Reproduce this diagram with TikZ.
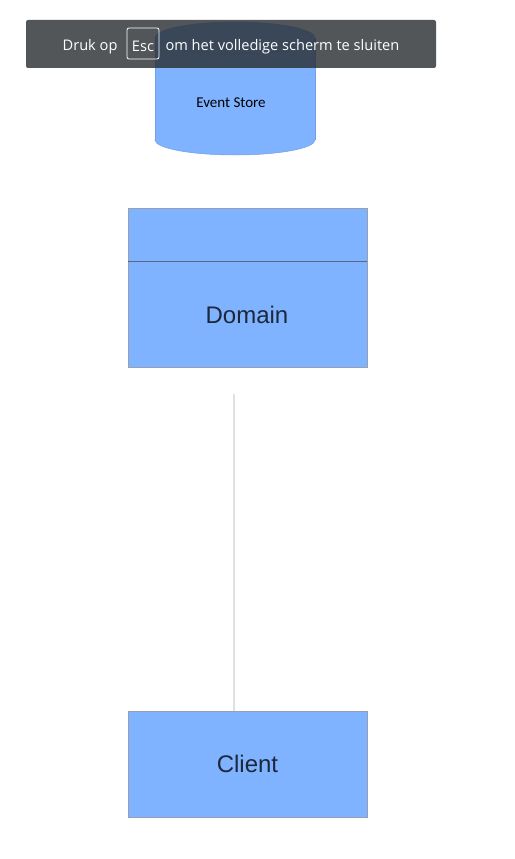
\documentclass[tikz,border=0pt]{standalone}
\usepackage{fontspec}
\usepackage{xcolor}
\setmainfont{Liberation Sans}
\newfontfamily\barfont{Open Sans}
\newfontfamily\storefont{Carlito}
\usetikzlibrary{positioning}

\definecolor{boxblue}{RGB}{128,179,255}
\definecolor{boxedge}{RGB}{150,160,175}
\definecolor{headline}{RGB}{90,105,130}
\definecolor{boxtext}{RGB}{28,40,60}
\definecolor{storeedge}{RGB}{112,160,230}
\definecolor{bargray}{RGB}{40,44,48}
\definecolor{linkgray}{RGB}{224,224,224}

\tikzset{
  block/.style={draw=boxedge, line width=0.8pt, fill=boxblue, minimum width=239pt,
    inner sep=0pt, text=boxtext, font=\fontsize{24}{28}\selectfont},
  link/.style={draw=linkgray, line width=1.6pt},
  bartext/.style={text=white, font=\barfont\fontsize{14.6}{17}\selectfont}
}

\begin{document}
\begin{tikzpicture}[x=1pt, y=-1pt]
  \useasboundingbox[fill=white] (0,0) rectangle (514,859);

  % Event store cylinder
  \fill[boxblue, draw=storeedge, line width=0.5pt] (235,140) ellipse [x radius=80, y radius=15];
  \fill[boxblue] (155,38) rectangle (315,140);
  \draw[storeedge, line width=0.5pt] (155,38) -- (155,140);
  \draw[storeedge, line width=0.5pt] (315,38) -- (315,140);
  \fill[boxblue, draw=storeedge, line width=0.5pt] (235,38) ellipse [x radius=80, y radius=16];
  \node (store) at (231,103) {\storefont\fontsize{15}{18}\selectfont Event Store};

  % Domain box with header line
  \node[block, minimum height=159pt] (domain) at (247.5,287.5) {};
  \draw[headline, line width=0.8pt] (domain.west |- 0,261) -- (domain.east |- 0,261);
  \node (domainlabel) at (247,315) {\fontsize{24}{28}\selectfont\color{boxtext}Domain};

  % Client box
  \node[block, minimum height=106pt] (client) at (247.5,764) {Client};

  % Connector
  \coordinate (linktop) at (234,394);
  \draw[link] (linktop) -- (linktop |- client.north);

  % Fullscreen hint bar
  \fill[bargray, fill opacity=0.8, rounded corners=2pt] (26,20) rectangle (436,68);
  \draw[white, line width=0.8pt, rounded corners=2pt] (127,28) rectangle (159,59);
  \node[bartext, anchor=east] (druk) at (121,46.5) {Druk op};
  \node[bartext] (esc) at (143,46.5) {Esc};
  \node[bartext, anchor=west] (hint) at (162,46.5) {om het volledige scherm te sluiten};
\end{tikzpicture}
\end{document}
